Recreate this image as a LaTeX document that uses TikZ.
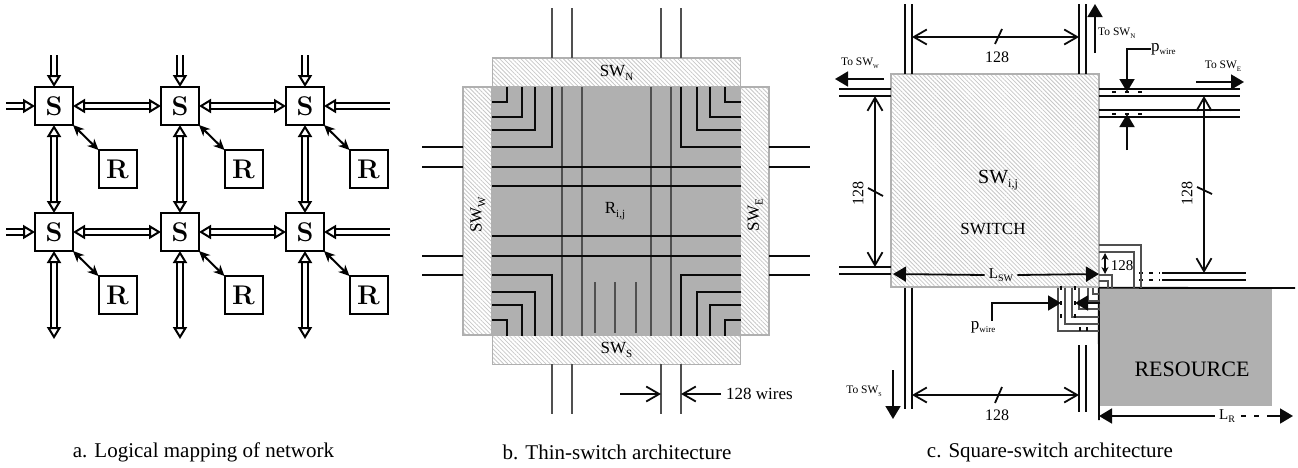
\documentclass[tikz,border=0pt]{standalone}
\usepackage{fontspec}
\usetikzlibrary{arrows.meta,positioning,calc,patterns.meta}
\newfontfamily\tms{Liberation Serif}
\definecolor{ink}{RGB}{10,10,10}
\definecolor{wire}{RGB}{80,80,80}
\definecolor{edgegrey}{RGB}{176,176,176}
\definecolor{core}{RGB}{176,176,176}
\newcommand{\fs}[1]{\fontsize{#1}{#1}\selectfont}
\newcommand{\low}[2]{\raisebox{-.22em}{\fs{#1}#2}}
\tikzset{
  lab/.style={inner sep=0pt,font=\tms\fs{17}},
  tiny/.style={inner sep=0pt,font=\tms\fs{11.5}},
  capt/.style={inner sep=0pt,font=\tms\fs{21}},
  sbox/.style={draw=black,line width=2pt,minimum size=38pt,inner sep=0pt,outer sep=0pt,
    font=\bfseries\addfontfeature{FakeBold=1.2}\fs{27}},
  hatch/.style={draw=edgegrey,line width=1.7pt,inner sep=0pt,outer sep=0pt,
    pattern={Lines[angle=-45,distance=3pt,line width=.8pt]},pattern color=black!22},
  link/.style={line width=2pt,double=white,double distance=4.6pt},
  hd/.style={{Triangle[open,fill=white,length=12pt,width=14pt]}-{Triangle[open,fill=white,length=12pt,width=14pt]}},
  hdin/.style={-{Triangle[open,fill=white,length=12pt,width=14pt]}},
  duo/.style={{Stealth[length=11pt,width=10pt]}-{Stealth[length=11pt,width=10pt]},line width=2pt},
  blk/.style={line width=1.8pt,ink},
  gw/.style={line width=1.7pt,wire},
  dim/.style={blk,{Straight Barb[length=13pt,width=15pt]}-{Straight Barb[length=13pt,width=15pt]}},
  ptr/.style={blk,-{Straight Barb[length=13pt,width=15pt]}},
  fat/.style={blk,-{Triangle[length=13pt,width=15pt]}},
}
\begin{document}
\begin{tikzpicture}[x=1pt,y=-1pt]
\useasboundingbox (0,0) rectangle (1298,467);
% a: network
\foreach \cx/\c in {54/1,180/2,305/3}{
  \foreach \ry/\r in {106/1,232/2}{
    \node[sbox] (s\r\c) at (\cx,\ry) {S};
    \node[sbox] (r\r\c) at (\cx+63.5,\ry+63) {R};
    \draw[duo] (s\r\c.south east) -- (r\r\c.north west);
  }
  \coordinate (top\c) at (\cx,55);
  \coordinate (bot\c) at (\cx,339);
  \draw[link,hdin] (top\c) -- (s1\c);
  \draw[link,hd] (s1\c) -- (s2\c);
  \draw[link,hd] (s2\c) -- (bot\c);
}
\foreach \r/\ry in {1/106,2/232}{
  \coordinate (lft\r) at (6,\ry);
  \coordinate (rgt\r) at (390,\ry);
  \draw[link,hdin] (lft\r) -- (s\r1);
  \draw[link,hd] (s\r1) -- (s\r2);
  \draw[link,hd] (s\r2) -- (s\r3);
  \draw[link,hdin] (rgt\r) -- (s\r3);
}
\node[capt] (capa) at (203.5,452) {a. Logical mapping of network};
% b: thin switch
\node[fill=core,minimum width=249pt,minimum height=249pt,inner sep=0pt] (rij) at (616.5,211.5) {};
\node[hatch,minimum width=248pt,minimum height=29pt,font=\tms\fs{17}] (swn) at (616.5,72.5) {SW\low{11}{N}};
\node[hatch,minimum width=248pt,minimum height=29pt,font=\tms\fs{17}] (sws) at (616.5,350) {SW\low{11}{S}};
\node[hatch,minimum width=29.5pt,minimum height=248pt] (swws) at (477.5,211) {};
\node[hatch,minimum width=29.5pt,minimum height=248pt] (swes) at (754.5,211) {};
\foreach \x in {552,572,661,681}{
  \draw[gw] (\x,8) -- (\x,58);
  \draw[gw] (\x,364) -- (\x,414);}
\foreach \x in {562,582,651,671}{
  \draw[gw] (\x,87) -- (\x,336);}
\foreach \x in {595,615,636}{
  \draw[gw] (\x,282) -- (\x,333);}
\foreach \y in {167,186,236,256}{
  \draw[blk] (492,\y) -- (741,\y);}
\foreach \y in {147,167,256,275}{
  \draw[blk] (422,\y) -- (463,\y);
  \draw[blk] (769,\y) -- (810,\y);}
\foreach \x/\y/\xx/\yy in {507/102/725/320,522/117/710/305,535/130/697/292,552/147/681/275}{
  \draw[blk] (492,\y) -| (\x,87);
  \draw[blk] (741,\y) -| (\xx,87);
  \draw[blk] (492,\yy) -| (\x,336);
  \draw[blk] (741,\yy) -| (\xx,336);}
\node[lab,rotate=90] (lsww) at (478,215) {SW\low{11}{W}};
\node[lab,rotate=90] (lswe) at (755,215) {SW\low{11}{E}};
\node[lab] (lrij) at (615,211) {R\low{11}{i,j}};
\node[lab,anchor=west] (lwires) at (726,394) {128 wires};
\coordinate (wa) at (661,394);
\coordinate (wb) at (681,394);
\coordinate (wc) at (620,394);
\draw[ptr] (wc) -- (wa);
\draw[ptr] (lwires.west) ++(-5,0) -- (wb);
\node[capt] (capb) at (617,452) {b. Thin-switch architecture};
% c: square switch
\node[hatch,minimum width=208pt,minimum height=213pt] (swij) at (995,180.5) {};
\node[fill=core,minimum width=173pt,minimum height=118pt,inner sep=0pt] (res) at (1185.5,347) {};
\draw[blk] (res.north west) -- (1295,288);
\draw[blk] (res.north west) -- (1099,420);
\foreach \x in {905,912}{
  \draw[blk] (\x,4) -- (\x,74);
  \draw[blk] (\x,288) -- (\x,409);}
\foreach \x in {1079,1086}{
  \draw[blk] (\x,4) -- (\x,74);
  \draw[blk] (\x,345) -- (\x,412);}
\foreach \y in {89,96,267,274}{
  \draw[blk] (839,\y) -- (891,\y);}
\foreach \y in {89,96,110,117}{
  \draw[blk] (1099,\y) -- (1240,\y);}
\foreach \y in {273,280}{
  \draw[blk] (1162,\y) -- (1246,\y);
  \draw[blk,line width=2pt,dash pattern=on 4pt off 6pt] (1139,\y) -- (1160,\y);}
\foreach \y in {92,114}{
  \foreach \x in {1114,1127,1140}{
    \draw[blk,line width=2pt] (\x-2,\y) -- (\x+2,\y);}}
% loops to the resource
\foreach \y/\x in {245/1141,252/1134,275/1112,281/1108}{
  \draw[gw] (1099,\y) -| (\x,288);}
\foreach \x/\y in {1058/331,1065/324,1072/317,1079/309,1088/301,1093/294}{
  \draw[gw] (1099,\y) -| (\x,288);}
\foreach \x in {1061,1075}{
  \foreach \y in {288,303,316}{
    \draw[blk,line width=2pt] (\x,\y-2) -- (\x,\y+2);}}
\foreach \x in {1080,1087}{
  \draw[blk,line width=2pt] (\x,327) -- (\x,331);}
% dimensions
\node[lab,font=\tms\fs{16}] (ntop) at (997,57) {128};
\node[lab,font=\tms\fs{16}] (nbot) at (997,415) {128};
\node[lab,font=\tms\fs{16},rotate=90] (nlft) at (858,193) {128};
\node[lab,font=\tms\fs{16},rotate=90] (nrgt) at (1187,193) {128};
\draw[dim] (912,37) -- (1079,37);
\draw[dim] (912,395) -- (1079,395);
\draw[dim] (875,96) -- (875,267);
\draw[dim] (1204,96) -- (1204,273);
\draw[blk] (995,44) -- (1002,29);
\draw[blk] (995,403) -- (1002,387);
\draw[blk] (868,188) -- (883,196);
\draw[blk] (1197,187) -- (1212,194);
\node[lab,font=\tms\fs{15}] (n128) at (1122,266) {128};
\draw[blk,line width=1.3pt,{Stealth[length=7pt,width=7pt]}-{Stealth[length=7pt,width=7pt]}] (1105,253) -- (1105,274);
% arrows to the neighbours
\node[tiny,anchor=west] (tn) at (1098,33) {To SW\low{7}{N}};
\node[tiny] (tw) at (860,63) {To SW\low{6}{W}};
\node[tiny] (te) at (1223,66) {To SW\low{7}{E}};
\node[tiny] (ts) at (864,391) {To SW\low{6}{S}};
\draw[fat] (1095,53) -- (1095,4);
\draw[fat] (884,79) -- (835,79);
\draw[fat] (1196,82) -- (1244,82);
\draw[fat] (893,370) -- (893,419);
% pitch marks
\node[lab,anchor=west] (pt) at (1151,49) {p\low{9}{wire}};
\node[lab] (pb) at (983,327) {p\low{9}{wire}};
\draw[fat] (pt.west) -| (1127,92);
\draw[fat] (1127,150) -- (1127,114);
\draw[fat] (pb.north -| 992,0) ++(0,0) |- (1061,303);
\draw[fat] (1100,303) -- (1075,303);
% lengths
\node[lab,font=\tms\fs{15}] (lsw) at (1001,275) {L\low{10}{SW}};
\node[lab,font=\tms\fs{15}] (lr) at (1227,416) {L\low{10}{R}};
\draw[fat] (lsw.west) ++(-4,0) -- (893,274);
\draw[fat] (lsw.east) ++(4,0) -- (1099,274);
\draw[fat] (lr.west) ++(-4,0) -- (1099,416);
\draw[fat,dash pattern=on 5pt off 8pt on 5pt off 8pt on 30pt] (lr.east) ++(6,0) -- (1293,416);
\node[lab,font=\tms\fs{20}] (lswij) at (998,180) {SW\low{12}{i,j}};
\node[lab] (lswitch) at (993,229) {SWITCH};
\node[lab,font=\tms\fs{22}] (lres) at (1192,369) {RESOURCE};
\node[capt] (capc) at (1050,452) {c. Square-switch architecture};
\end{tikzpicture}
\end{document}
